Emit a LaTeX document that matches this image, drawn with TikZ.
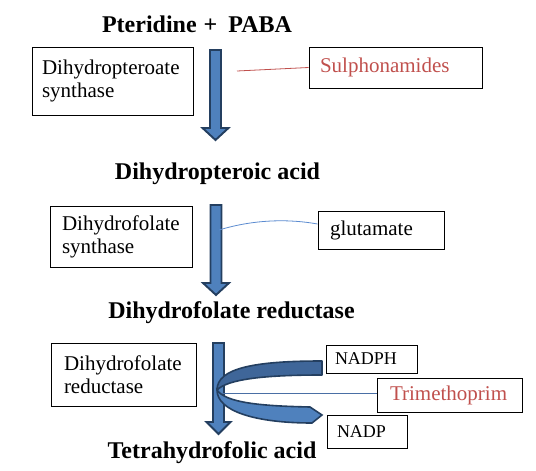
\documentclass[tikz,border=0pt]{standalone}
\usepackage{fontspec}
\setmainfont{Liberation Serif}
\usetikzlibrary{calc}
\definecolor{arrfill}{HTML}{4F81BD}
\definecolor{arrline}{HTML}{243F60}
\definecolor{bandback}{HTML}{3F6699}
\definecolor{redtxt}{HTML}{C0504D}
\definecolor{glucol}{HTML}{5B8BD0}
\definecolor{tricol}{HTML}{4A6FA5}
\newcommand\fitl[2]{\makebox[#1][l]{#2}}
\tikzset{
  pics/downarrow/.style n args={4}{code={%
    \path[blockarr] (-#3,0) -- (-#3,#1) -- (-#4,#1) -- (0,#2) -- (#4,#1) -- (#3,#1) -- (#3,0) -- cycle;}}
}
\begin{document}
\begin{tikzpicture}[x=1pt,y=-1pt,
  title/.style={font=\fontsize{24}{28}\selectfont\bfseries, inner sep=0pt, anchor=base},
  enzbox/.style={draw=black, line width=0.9pt, align=left, inner ysep=0pt,
     font=\fontsize{21}{23}\selectfont},
  tagbox/.style={draw=black, line width=0.9pt, align=left, inner ysep=0pt,
     font=\fontsize{21}{23}\selectfont},
  smalltag/.style={tagbox, font=\fontsize{18}{21}\selectfont},
  blockarr/.style={fill=arrfill, draw=arrline, line width=1.9pt, line join=miter},
  backband/.style={blockarr, fill=bandback, line width=1.6pt, line join=round},
  frontband/.style={blockarr, line width=1.6pt, line join=miter},
]
\useasboundingbox (0,0) rectangle (536,471);

% titles
\node[title] (t0) at (197,32) {Pteridine\hspace{7pt}+\hspace{11pt}PABA};
\node[title] (t1) at (217.5,179) {Dihydropteroic acid};
\node[title] (t2) at (231.5,318) {Dihydrofolate reductase};
\node[title] (t3) at (212,458) {Tetrahydrofolic acid};

% enzyme boxes
\node[enzbox, minimum width=161pt, minimum height=68pt, inner xsep=10pt] (b1) at (112.5,81)
  {\fitl{141pt}{Dihydropteroate}\\synthase};
\node[enzbox, minimum width=142pt, minimum height=61pt, inner xsep=12pt] (b2) at (121,236.5)
  {\fitl{118pt}{Dihydrofolate}\\synthase};
\node[enzbox, minimum width=145pt, minimum height=63pt, inner xsep=13pt] (b3) at (123.5,374.5)
  {\fitl{119pt}{Dihydrofolate}\\reductase};

% tag boxes
\node[tagbox, minimum width=173pt, minimum height=41pt, inner xsep=11pt, text=redtxt] (sul) at (395.5,67.5)
  {\fitl{151pt}{Sulphonamides}};
\node[tagbox, minimum width=126pt, minimum height=38pt, inner xsep=12pt] (glu) at (381,230)
  {\fitl{102pt}{glutamate}};
\node[smalltag, minimum width=91pt, minimum height=28pt, inner xsep=9pt] (nadph) at (371.5,359)
  {\fitl{73pt}{NADPH}};
\node[tagbox, minimum width=145pt, minimum height=34pt, inner xsep=13pt, text=redtxt] (tri) at (449.5,395)
  {\fitl{119pt}{Trimethoprim}};
\node[smalltag, minimum width=80pt, minimum height=33pt, inner xsep=10pt] (nadp) at (367,431.5)
  {\fitl{60pt}{NADP}};

% vertical block arrows
\pic at (215.5,50) {downarrow={78}{90}{5.5}{13}};
\pic at (216,205) {downarrow={78}{90}{5.5}{13}};
\pic at (218.5,343) {downarrow={79}{91}{5.5}{12}};

% connectors
\coordinate (sl) at (237,71);
\draw[redtxt, line width=0.8pt] (sl) -- (sul.west);
\coordinate (gl) at (219,230);
\draw[glucol, line width=0.8pt] (gl) .. controls (255,219) and (290,219) .. ($(glu.west)+(0,-6)$);
\coordinate (tl) at (222,393);
\draw[tricol, line width=0.8pt] (tl) -- (tl -| tri.west);

% curved ribbon arrow
\path[backband] (322,361) .. controls (255,361) and (217,368) .. (217,390)
   .. controls (228,379) and (265,375) .. (322,375) -- cycle;
\path[frontband] (217,390) .. controls (217,411) and (255,423) .. (312,423)
   -- (322,415) -- (310,407) .. controls (262,406) and (226,403) .. (217,390) -- cycle;
\end{tikzpicture}
\end{document}
